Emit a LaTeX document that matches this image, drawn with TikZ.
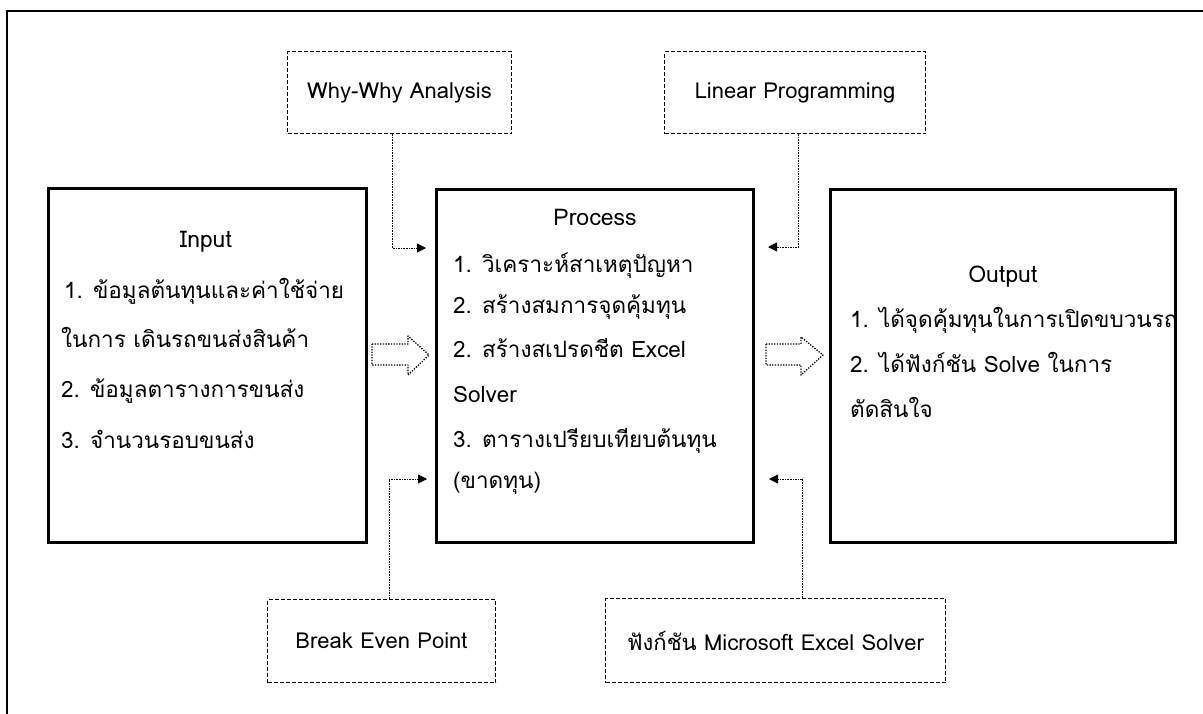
\documentclass[tikz,border=0pt]{standalone}
\usepackage{fontspec}
\setmainfont{Loma}[Script=Thai]
\usetikzlibrary{arrows.meta}
\begin{document}
\begin{tikzpicture}[x=1pt,y=-1pt,
  mainbox/.style={draw, line width=2.6pt, inner sep=0pt, anchor=north west},
  dbox/.style={draw, line width=1.1pt, dash pattern=on 4pt off 2pt, inner sep=0pt, anchor=north west, font=\fontsize{22}{26}\selectfont},
  conn/.style={line width=0.8pt, dash pattern=on 1.6pt off 1pt, -{Triangle[length=9pt,width=9pt]}},
  hollow/.style={line width=1.3pt, dash pattern=on 1.3pt off 1.4pt, line join=round},
  txt/.style={anchor=base west, inner sep=0pt, font=\fontsize{22.5}{27}\selectfont},
  ttl/.style={anchor=base, inner sep=0pt, font=\fontsize{23}{27}\selectfont}]
\useasboundingbox (0,0) rectangle (1203,713);
\clip (0,0) rectangle (1203,713);
% outer frame
\draw[line width=1.6pt] (7,730) -- (7,11) -- (1220,11);

% main boxes
\node[mainbox, minimum width=318pt, minimum height=354pt] (inp) at (47,187) {};
\node[mainbox, minimum width=317pt, minimum height=353pt] (proc) at (435,188) {};
\node[mainbox, minimum width=345pt, minimum height=353pt] (outp) at (829,188) {};

% dashed boxes
\node[dbox, minimum width=224pt, minimum height=82pt] (ww) at (287,51) {Why-Why Analysis};
\node[dbox, minimum width=261pt, minimum height=82pt] (lp) at (664,51) {Linear Programming};
\node[dbox, minimum width=228pt, minimum height=83pt] (be) at (267,599) {Break Even Point};
\node[dbox, minimum width=340pt, minimum height=84pt] (xs) at (605,598) {ฟังก์ชัน Microsoft Excel Solver};

% input texts
\node[ttl] (inT) at (206,247) {Input};
\node[txt] (in1) at (64,298) {1. ข้อมูลต้นทุนและค่าใช้จ่าย};
\node[txt] (in2) at (61,347) {ในการ เดินรถขนส่งสินค้า};
\node[txt] (in3) at (61,397) {2. ข้อมูลตารางการขนส่ง};
\node[txt] (in4) at (61,448) {3. จำนวนรอบขนส่ง};

% process texts
\node[ttl] (prT) at (595,225) {Process};
\node[txt] (pr1) at (453,272) {1. วิเคราะห์สาเหตุปัญหา};
\node[txt] (pr2) at (453,313) {2. สร้างสมการจุดคุ้มทุน};
\node[txt] (pr3) at (453,357) {2. สร้างสเปรดชีต Excel};
\node[txt] (pr4) at (453,402) {Solver};
\node[txt] (pr5) at (453,447) {3. ตารางเปรียบเทียบต้นทุน};
\node[txt] (pr6) at (453,488) {(ขาดทุน)};

% output texts
\node[ttl] (ouT) at (1003,282) {Output};
\node[txt] (ou1) at (850,327) {1. ได้จุดคุ้มทุนในการเปิดขบวนรถ};
\node[txt] (ou2) at (850,372) {2. ได้ฟังก์ชัน Solve ในการ};
\node[txt] (ou3) at (850,417) {ตัดสินใจ};

% connectors
\coordinate (wwend) at (426,248);
\coordinate (lpend) at (768,247);
\coordinate (beend) at (427,479);
\coordinate (xsend) at (769,479);
\draw[conn] ([xshift=-7pt]ww.south) |- (wwend);
\draw[conn] ([xshift=3.5pt]lp.south) |- (lpend);
\draw[conn] ([xshift=7.5pt]be.north) |- (beend);
\draw[conn] ([xshift=27pt]xs.north) |- (xsend);

% hollow arrows
\draw[hollow] (372,344) -- (408,344) -- (408,336) -- (429,355) -- (408,375) -- (408,365) -- (372,365) -- cycle;
\draw[hollow] (766,344) -- (801,344) -- (801,337) -- (823,355) -- (801,375) -- (801,365) -- (766,365) -- cycle;
\end{tikzpicture}
\end{document}
